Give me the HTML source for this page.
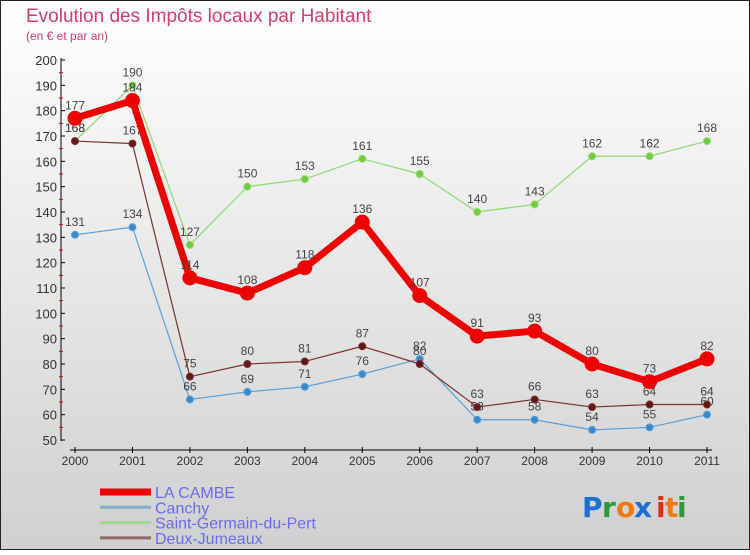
<!DOCTYPE html>
<html><head><meta charset="utf-8"><style>
body{margin:0;width:750px;height:550px;overflow:hidden;font-family:"Liberation Sans",sans-serif}
</style></head><body>
<svg id="c" width="750" height="550" xmlns="http://www.w3.org/2000/svg">
<defs><linearGradient id="bg" x1="0" y1="0" x2="0" y2="1"><stop offset="0" stop-color="#ffffff"/><stop offset="1" stop-color="#d0d0d0"/></linearGradient></defs>
<rect x="0.5" y="0.5" width="749" height="549" fill="url(#bg)" stroke="#222"/>
<text x="26" y="22" font-size="19" fill="#d0406a">Evolution des Impôts locaux par Habitant</text>
<text x="26" y="40" font-size="12" fill="#d0406a">(en € et par an)</text>
<g id="axes"></g><g id="series"></g><g id="legend"></g>
<g font-size="28" font-family="'DejaVu Sans',sans-serif" font-weight="bold">
<text x="582" y="517" fill="#1e6fd0">P</text><text x="602" y="517" fill="#2a9a3a">r</text><text x="616" y="517" fill="#f07a10">o</text><text x="634" y="517" fill="#1e6fd0">x</text><text x="656" y="517" fill="#e03010">i</text><text x="665" y="517" fill="#f07a10">t</text><text x="677" y="517" fill="#2a9a3a">i</text>
</g>
</svg>
<script>
const years=["2000","2001","2002","2003","2004","2005","2006","2007","2008","2009","2010","2011"];
const yTicks=[50,60,70,80,90,100,110,120,130,140,150,160,170,180,190,200];
const laCambe=[177,184,114,108,118,136,107,91,93,80,73,82];
const canchy=[131,134,66,69,71,76,82,58,58,54,55,60];
const saintGermain=[168,190,127,150,153,161,155,140,143,162,162,168];
const deuxJumeaux=[168,167,75,80,81,87,80,63,66,63,64,64];
const NS="http://www.w3.org/2000/svg";
const X=i=>75+i*(707-75)/11;
const Y=v=>440-(v-50)*(380/150);
function el(t,a,p){const e=document.createElementNS(NS,t);for(const k in a)e.setAttribute(k,a[k]);p.appendChild(e);return e;}
const ax=document.getElementById('axes');
let l=el('line',{x1:61,y1:58,x2:61,y2:441,stroke:'#000'},ax);


l=el('line',{x1:70,y1:450,x2:712,y2:450,stroke:'#000'},ax);


yTicks.forEach(v=>{
 el('line',{x1:61,y1:Y(v),x2:65,y2:Y(v),stroke:'#000'},ax);
 if(v<200) el('line',{x1:59,y1:Y(v+5),x2:63,y2:Y(v+5),stroke:'#e00000'},ax);
 const t=el('text',{x:57,y:Y(v)+5,'text-anchor':'end','font-size':13,fill:'#333'},ax);t.textContent=v;
 
 
});
years.forEach((y,i)=>{
 el('line',{x1:X(i),y1:447,x2:X(i),y2:453,stroke:'#000'},ax);
 const t=el('text',{x:X(i),y:465,'text-anchor':'middle','font-size':12,fill:'#333'},ax);t.textContent=y;
 
 
});
const sg=document.getElementById('series');
function series(d,c,w,r,mc,name){
 const g=el('g',{},sg);
 
 
 el('polyline',{points:d.map((v,i)=>X(i)+','+Y(v)).join(' '),fill:'none',stroke:c,'stroke-width':w,'stroke-linejoin':'round'},g);
 d.forEach((v,i)=>{
  const p=el('circle',{cx:X(i),cy:Y(v),r:r,fill:mc,stroke:c,'stroke-width':1},g);
  
  
  const t=el('text',{x:X(i),y:Y(v)-9,'text-anchor':'middle','font-size':12,fill:'#444'},g);t.textContent=v;
 });
}
series(canchy,'#5a9fd8',1.2,3.5,'#3a88cc','series-canchy');
series(saintGermain,'#90d870',1.2,3.5,'#70cc40','series-saint-germain');
series(deuxJumeaux,'#7a3030',1.2,3.5,'#601818','series-deux-jumeaux');
series(laCambe,'#ee0000',7,7,'#ee0000','series-la-cambe');
const lg=document.getElementById('legend');
[['LA CAMBE','#ee0000',7],['Canchy','#80b0d0',3],['Saint-Germain-du-Pert','#a0d890',3],['Deux-Jumeaux','#906868',3]].forEach((e,i)=>{
 const y=492+i*15.3;
 const g=el('g',{},lg);
 
 
 el('line',{x1:100,y1:y,x2:151,y2:y,stroke:e[1],'stroke-width':e[2]},g);
 const t=el('text',{x:155,y:y+6,'font-size':16,fill:'#6a6af0'},g);t.textContent=e[0];
});
</script>
</body></html>
